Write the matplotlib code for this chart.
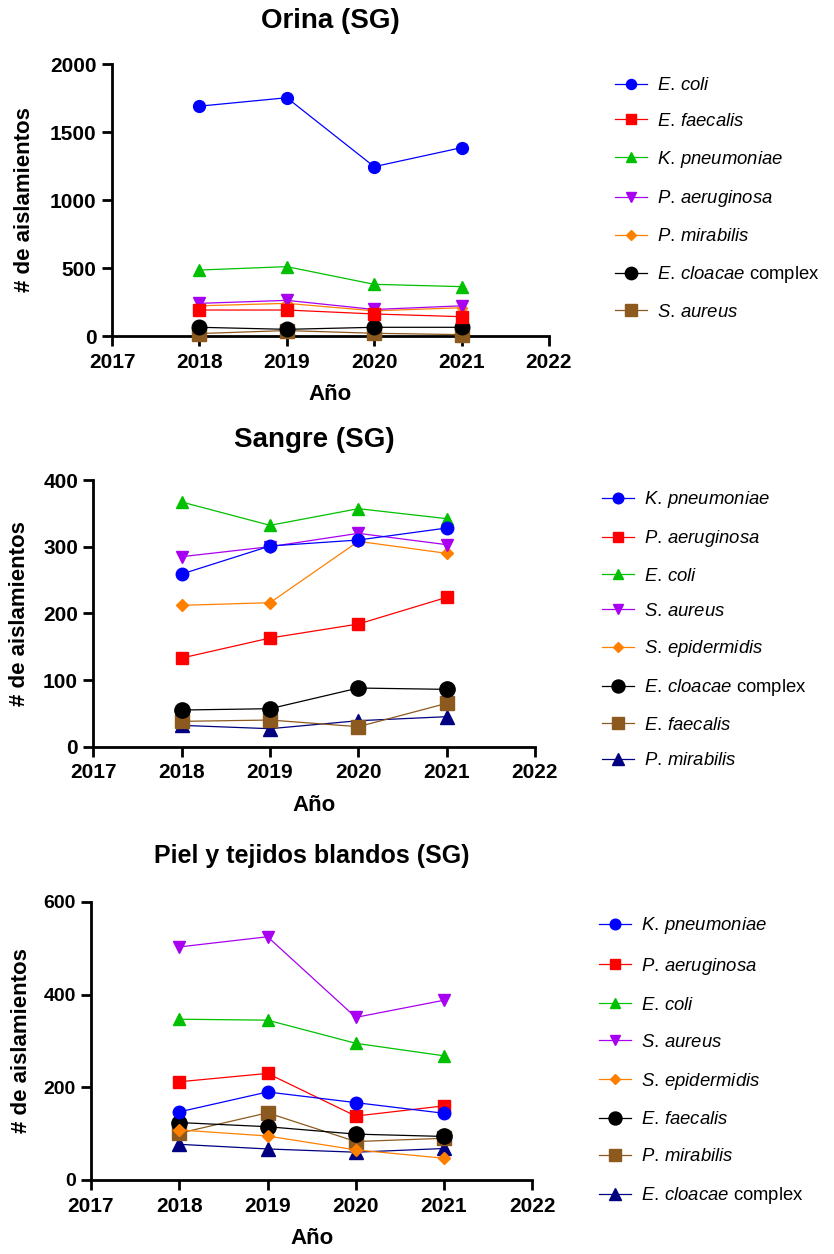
import matplotlib
matplotlib.use("Agg")
import matplotlib.pyplot as plt

plt.rcParams['font.family'] = ['Liberation Sans', 'DejaVu Sans']
plt.rcParams['mathtext.fontset'] = 'custom'
plt.rcParams['mathtext.it'] = 'Liberation Sans:italic'
plt.rcParams['mathtext.rm'] = 'Liberation Sans'

years = [2018, 2019, 2020, 2021]

# ---- Panel 1: Orina (SG)
orina_labels = ["E. coli", "E. faecalis", "K. pneumoniae", "P. aeruginosa",
                "P. mirabilis", "E. cloacae|complex", "S. aureus"]
orina_ecoli = [1690, 1752, 1245, 1385]
orina_efaecalis = [191, 191, 162, 142]
orina_kpneu = [485, 510, 380, 363]
orina_paer = [240, 262, 195, 222]
orina_pmir = [222, 240, 185, 208]
orina_ecloacae = [64, 49, 64, 64]
orina_saureus = [18, 40, 20, 10]
orina_values = [orina_ecoli, orina_efaecalis, orina_kpneu, orina_paer,
                orina_pmir, orina_ecloacae, orina_saureus]

# ---- Panel 2: Sangre (SG)
sangre_labels = ["K. pneumoniae", "P. aeruginosa", "E. coli", "S. aureus",
                 "S. epidermidis", "E. cloacae|complex", "E. faecalis", "P. mirabilis"]
sangre_kpneu = [259, 301, 310, 328]
sangre_paer = [133, 163, 184, 224]
sangre_ecoli = [367, 332, 357, 342]
sangre_saureus = [285, 300, 320, 303]
sangre_sepi = [212, 216, 308, 290]
sangre_ecloacae = [55, 57, 88, 86]
sangre_efaecalis = [38, 40, 30, 65]
sangre_pmir = [32, 27, 39, 45]
sangre_values = [sangre_kpneu, sangre_paer, sangre_ecoli, sangre_saureus,
                 sangre_sepi, sangre_ecloacae, sangre_efaecalis, sangre_pmir]

# ---- Panel 3: Piel y tejidos blandos (SG)
piel_labels = ["K. pneumoniae", "P. aeruginosa", "E. coli", "S. aureus",
               "S. epidermidis", "E. faecalis", "P. mirabilis", "E. cloacae|complex"]
piel_kpneu = [147, 190, 167, 144]
piel_paer = [212, 230, 138, 160]
piel_ecoli = [347, 345, 295, 268]
piel_saureus = [503, 525, 351, 388]
piel_sepi = [108, 95, 65, 47]
piel_efaecalis = [124, 115, 99, 94]
piel_pmir = [101, 145, 83, 90]
piel_ecloacae = [77, 67, 60, 68]
piel_values = [piel_kpneu, piel_paer, piel_ecoli, piel_saureus,
               piel_sepi, piel_efaecalis, piel_pmir, piel_ecloacae]

xticks = [2017, 2018, 2019, 2020, 2021, 2022]

BLUE = '#0000FF'
RED = '#FF0000'
GREEN = '#00C000'
PURPLE = '#A800F0'
ORANGE = '#FF8000'
BLACK = '#000000'
BROWN = '#8C5A1E'
NAVY = '#000080'

sty_orina = [(BLUE, 'o', 8.5), (RED, 's', 8), (GREEN, '^', 8.5), (PURPLE, 'v', 8.5),
             (ORANGE, 'D', 5.5), (BLACK, 'o', 10.5), (BROWN, 's', 10)]
sty_sangre = [(BLUE, 'o', 9), (RED, 's', 8.5), (GREEN, '^', 9), (PURPLE, 'v', 9),
              (ORANGE, 'D', 6), (BLACK, 'o', 11), (BROWN, 's', 10.5), (NAVY, '^', 9.5)]
sty_piel = [(BLUE, 'o', 9), (RED, 's', 8.5), (GREEN, '^', 9), (PURPLE, 'v', 9),
            (ORANGE, 'D', 6), (BLACK, 'o', 11), (BROWN, 's', 10.5), (NAVY, '^', 9.5)]


def fmt_label(lab):
    if '|' in lab:
        it, rest = lab.split('|')
        return r"$\mathit{" + it.replace(' ', r'\,') + "}$ " + rest
    return r"$\mathit{" + lab.replace(' ', r'\,') + "}$"


W, H = 834, 1254
fig = plt.figure(figsize=(W / 100, H / 100), dpi=100)


def px_axes(x0, x1, y0, y1):
    return fig.add_axes([x0 / W, 1 - y1 / H, (x1 - x0) / W, (y1 - y0) / H])


def make_panel(rect, title, title_size, title_pad, labels, values, styles, ymax, ystep,
               ytick_size, ylab_x, leg_x, leg_ytop, leg_spacing):
    ax = px_axes(*rect)
    n = len(labels)
    for i, (lab, vals, (c, m, ms)) in enumerate(zip(labels, values, styles)):
        ax.plot(years, vals, color=c, marker=m, markersize=ms, linewidth=0.9,
                markeredgecolor=c, label=fmt_label(lab), clip_on=False, zorder=10 + n - i)
    ax.set_xlim(2017, 2022)
    ax.set_ylim(0, ymax)
    ax.set_xticks(xticks)
    ax.set_yticks(list(range(0, ymax + 1, ystep)))
    for s in ['top', 'right']:
        ax.spines[s].set_visible(False)
    for s in ['left', 'bottom']:
        ax.spines[s].set_linewidth(2.0)
    ax.tick_params(axis='both', width=2.0, length=7, direction='out')
    ax.tick_params(axis='x', labelsize=15, pad=5)
    ax.tick_params(axis='y', labelsize=ytick_size, pad=4)
    for t in ax.get_xticklabels() + ax.get_yticklabels():
        t.set_fontweight('bold')
    ax.set_title(title, fontsize=title_size, fontweight='bold', pad=title_pad)
    ax.set_xlabel('Año', fontsize=16, fontweight='bold', labelpad=9)
    yc = (rect[2] + rect[3]) / 2
    fig.text(ylab_x / W, 1 - yc / H, '# de aislamientos', rotation=90,
             ha='center', va='center', fontsize=16, fontweight='bold')
    fs = 13.3
    fs_px = fs * 100 / 72
    ax.legend(loc='upper left', bbox_to_anchor=(leg_x / W, 1 - leg_ytop / H),
              bbox_transform=fig.transFigure, frameon=False, fontsize=fs,
              handlelength=32 / fs_px, handletextpad=0.55, borderpad=0,
              borderaxespad=0, labelspacing=(leg_spacing - 20) / fs_px,
              markerscale=0.85)
    return ax


make_panel((112, 549, 64, 336), 'Orina (SG)', 20, 26, orina_labels, orina_values,
           sty_orina, 2000, 500, 15, 25, 615, 77, 38.8)
make_panel((93.4, 535, 480, 746.7), 'Sangre (SG)', 20, 24, sangre_labels, sangre_values,
           sty_sangre, 400, 100, 15, 20, 602, 489, 38.3)
make_panel((91, 532.3, 902, 1180), 'Piel y tejidos blandos (SG)', 18, 28, piel_labels,
           piel_values, sty_piel, 600, 200, 14, 22, 599, 915, 39.9)

fig.savefig('out.png', dpi=100)
